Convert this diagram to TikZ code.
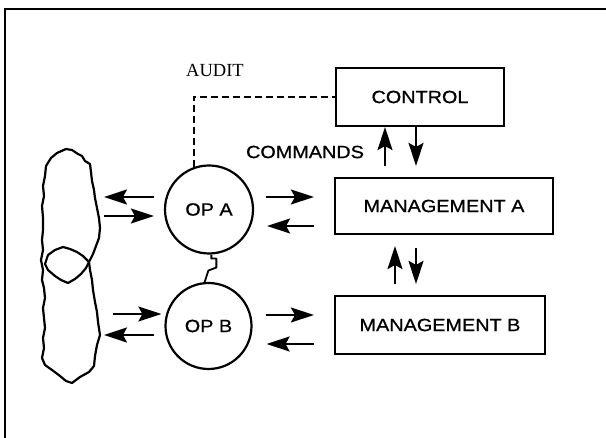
\documentclass[tikz,border=0pt]{standalone}
\usepackage{fontspec}
\setmainfont{Liberation Serif}
\newfontfamily\boxfont[FakeStretch=1.12, FakeBold=0.8]{Liberation Sans}
\usetikzlibrary{arrows.meta, positioning, calc}

\begin{document}
\begin{tikzpicture}[
    x=1pt, y=-1pt,
    block/.style={draw, line width=2.2pt, inner sep=0pt, font=\boxfont\fontsize{17.7pt}{20pt}\selectfont},
    opnode/.style={draw, circle, line width=2.2pt, inner sep=0pt, minimum size=88pt, font=\boxfont\fontsize{17.7pt}{20pt}\selectfont},
    flow/.style={-{Stealth[length=23pt,width=15pt,inset=4pt]}, line width=2pt},
    audit/.style={line width=2pt, dash pattern=on 7pt off 4pt},
    outline/.style={line width=2.2pt, line join=round}
]
    \useasboundingbox (0,0) rectangle (606,438);

    % Frame (top and left edges only)
    \draw[line width=2.2pt] (5,438) -- (5,9) -- (606,9);

    % Boxes
    \node[block, minimum width=168pt, minimum height=58pt] (control) at (420,97) {CONTROL};
    \node[block, minimum width=218pt, minimum height=56pt] (mgta) at (444,206) {MANAGEMENT A};
    \node[block, minimum width=210pt, minimum height=58pt] (mgtb) at (440,325) {MANAGEMENT B};

    % Operators
    \node[opnode] (opa) at (209,209.5) {OP A};
    \node[opnode, minimum size=86pt] (opb) at (208.5,326) {OP B};

    % Labels
    \node[font=\fontsize{18.5pt}{20pt}\selectfont] (auditlbl) at (215,70) {AUDIT};
    \node[font=\boxfont\fontsize{17.7pt}{20pt}\selectfont] (cmdlbl) at (305,152) {COMMANDS};

    % Environment outline
    \draw[outline] (66,149) -- (72,150) -- (78,154) -- (82,156) -- (85,161) -- (90,164)
        -- (91,172) -- (92,181) -- (94,190) -- (95,198) -- (97,208) -- (99,218) -- (100,228)
        -- (99,238) -- (96,246) -- (93,254) -- (89,262) -- (90,270) -- (92,280) -- (93,290)
        -- (95,302) -- (97,312) -- (98,322) -- (100,335) -- (97,345) -- (95,356) -- (94,366)
        -- (89,372) -- (80,377) -- (72,383) -- (66,381) -- (60,376) -- (52,370) -- (45,365)
        -- (42,358) -- (44,348) -- (43,338) -- (45,328) -- (44,318) -- (43,308) -- (45,298)
        -- (44,288) -- (42,280) -- (43,270) -- (41,260) -- (43,250) -- (42,240) -- (43,230)
        -- (43,218) -- (42,206) -- (44,196) -- (43,186) -- (45,176) -- (46,166) -- (51,158)
        -- (57,153) -- cycle;
    \draw[outline] (48,255) -- (55,250) -- (63,247) -- (70,249) -- (77,252) -- (83,256)
        -- (89,262) -- (86,268) -- (81,274) -- (75,279) -- (68,283) -- (61,280) -- (55,276)
        -- (48,270) -- (45,264) -- cycle;

    % Ends at the environment
    \coordinate (outa) at (104,197);
    \coordinate (ina) at (104,216);
    \coordinate (inb) at (113,314);
    \coordinate (outb) at (104,335);

    % Audit path
    \draw[audit] (opa.110) |- (control.west);

    % Control <-> management A
    \draw[flow, shorten <=11pt] ([xshift=-59pt]mgta.north) -- ([xshift=-35pt]control.south);
    \draw[flow, shorten >=11pt] ([xshift=-4pt]control.south) -- ([xshift=-28pt]mgta.north);

    % Management A <-> management B
    \draw[flow, shorten <=11pt, shorten >=11pt] ([xshift=-45pt]mgtb.north) -- ([xshift=-49pt]mgta.south);
    \draw[flow, shorten <=13pt, shorten >=11pt] ([xshift=-28pt]mgta.south) -- ([xshift=-24pt]mgtb.north);

    % Operators <-> management
    \draw[flow, shorten <=12pt, shorten >=20pt] ([yshift=12.5pt]opa.east) -- ([yshift=9pt]mgta.west);
    \draw[flow, shorten <=20pt, shorten >=13pt] ([yshift=-20pt]mgta.west) -- ([yshift=-16.5pt]opa.east);
    \draw[flow, shorten <=13pt, shorten >=20pt] ([yshift=11pt]opb.east) -- ([yshift=10pt]mgtb.west);
    \draw[flow, shorten <=20pt, shorten >=14pt] ([yshift=-19pt]mgtb.west) -- ([yshift=-18pt]opb.east);

    % Operators <-> environment
    \draw[flow, shorten <=10pt] (outa -| opa.west) -- (outa);
    \draw[flow, shorten >=10pt] (ina) -- (ina -| opa.west);
    \draw[flow, shorten >=3pt] (inb) -- (inb -| opb.west);
    \draw[flow, shorten <=10pt] (outb -| opb.west) -- (outb);

    % Link between the operators
    \draw[line width=1.8pt, line join=round] (opa.-87) -- ++(0,4) -- ++(5,0) -- ++(0,9) -- ++(-8,3) -- (opb.95);
\end{tikzpicture}
\end{document}
